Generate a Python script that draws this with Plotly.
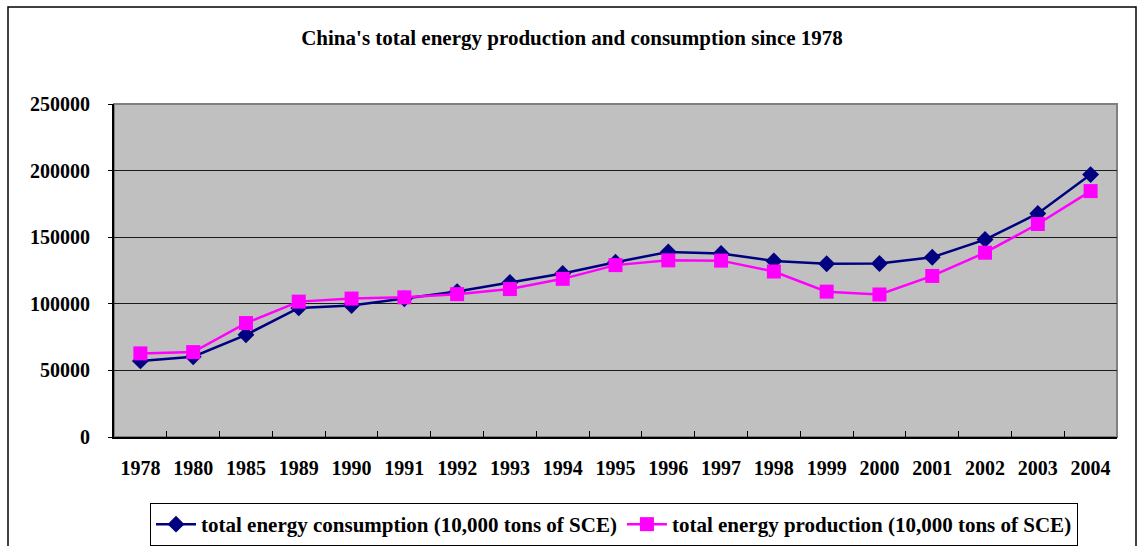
import plotly.graph_objects as go

years = ["1978", "1980", "1985", "1989", "1990", "1991", "1992", "1993", "1994", "1995",
         "1996", "1997", "1998", "1999", "2000", "2001", "2002", "2003", "2004"]
consumption = [57144, 60275, 76682, 96934, 98703, 103783, 109170, 115993, 122737, 131176,
               138948, 137798, 132214, 130119, 130297, 134914, 148222, 167800, 197000]
production = [62770, 63735, 85546, 101639, 103922, 104844, 107256, 111059, 118729, 129034,
              132616, 132410, 124250, 109126, 106988, 120900, 138369, 159912, 184600]
y_ticks = [0, 50000, 100000, 150000, 200000, 250000]

W, H = 1138, 546
L, R, T, B = 114, 21, 104, 109
pw, ph = W - L - R, H - T - B

def px_x(p):
    return (p - L) / pw

def px_y(p):
    return (H - B - p) / ph

serif = "Liberation Serif, Times New Roman, serif"
fs = 20

fig = go.Figure()
fig.add_trace(go.Scatter(
    x=years, y=consumption, mode="lines+markers",
    name="total energy consumption (10,000 tons of SCE)",
    line=dict(color="#000080", width=2.5),
    marker=dict(symbol="diamond", size=13, color="#000080"),
))
fig.add_trace(go.Scatter(
    x=years, y=production, mode="lines+markers",
    name="total energy production (10,000 tons of SCE)",
    line=dict(color="#FF00FF", width=2.5),
    marker=dict(symbol="square", size=14, color="#FF00FF"),
))

fig.update_layout(
    width=W, height=H,
    margin=dict(l=L, r=R, t=T, b=B, autoexpand=False),
    paper_bgcolor="white",
    plot_bgcolor="#C0C0C0",
    font=dict(family=serif, color="black", size=fs, weight="bold"),
    title=dict(
        text="China's total energy production and consumption since 1978",
        x=572 / W, xanchor="center", xref="container",
        y=1 - 38 / H, yanchor="middle", yref="container",
        font=dict(family=serif, size=21, weight="bold", color="black"),
    ),
    showlegend=True,
    legend=dict(
        orientation="h", x=px_x(614), xanchor="center", xref="paper",
        y=px_y(503), yanchor="top",
        bordercolor="black", borderwidth=1, bgcolor="white",
        font=dict(family=serif, size=21, weight="bold", color="black"),
        itemwidth=40, tracegroupgap=0,
    ),
    xaxis=dict(
        type="category", categoryorder="array", categoryarray=years,
        range=[-0.5, len(years) - 0.5], automargin=False,
        showgrid=False, tickson="boundaries", ticks="inside", ticklen=6,
        tickcolor="black", tickwidth=1,
        showline=True, linecolor="black", linewidth=2,
        ticklabelstandoff=12,
        tickfont=dict(family=serif, size=fs, weight="bold", color="black"),
        fixedrange=True,
    ),
    yaxis=dict(
        range=[0, 250000], tickvals=y_ticks, ticktext=[str(v) for v in y_ticks],
        automargin=False,
        showgrid=True, gridcolor="#1a1a1a", gridwidth=1,
        ticks="outside", ticklen=4, tickcolor="black",
        showline=True, linecolor="black", linewidth=2,
        ticklabelstandoff=14, zeroline=False,
        tickfont=dict(family=serif, size=fs, weight="bold", color="black"),
        fixedrange=True,
    ),
    shapes=[
        # gray border of the plotting area
        dict(type="rect", xref="paper", yref="paper", x0=0, x1=1, y0=0, y1=1,
             line=dict(color="#808080", width=2), layer="below"),
        # outer frame around the whole chart
        dict(type="rect", xref="paper", yref="paper",
             x0=px_x(8), x1=px_x(1136), y0=px_y(560), y1=px_y(7),
             line=dict(color="black", width=1.5), layer="below"),
    ],
)

fig.write_html("out.html")
